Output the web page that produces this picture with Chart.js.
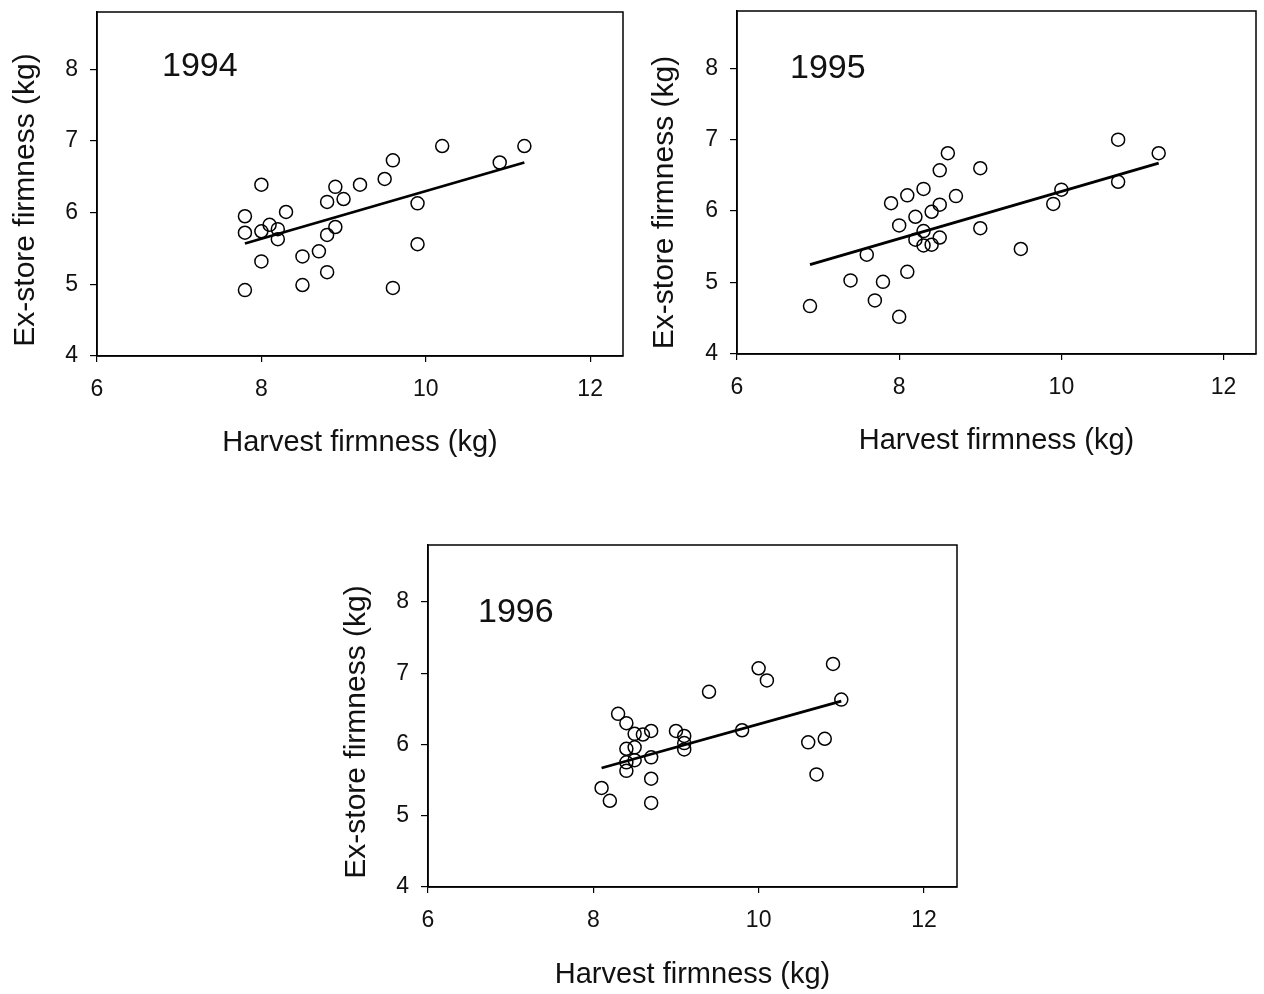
<!DOCTYPE html>
<html>
<head>
<meta charset="utf-8">
<script src="https://cdn.jsdelivr.net/npm/chart.js@4/dist/chart.umd.min.js"></script>
<style>
html,body{margin:0;padding:0;background:#fff;}
#wrap{position:relative;width:1264px;height:994px;overflow:hidden;background:#fff;}
canvas{position:absolute;display:block;}
</style>
</head>
<body>
<div id="wrap">
  <canvas id="c1" width="640" height="470" style="left:0px;top:0px"></canvas>
  <canvas id="c2" width="624" height="470" style="left:640px;top:0px"></canvas>
  <canvas id="c3" width="640" height="464" style="left:330px;top:530px"></canvas>
</div>
<script>
// ---- tick labels ----
const xTickValues = [6, 8, 10, 12];
const yTickValues = [4, 5, 6, 7, 8];
const xTitle = 'Harvest firmness (kg)';
const yTitle = 'Ex-store firmness (kg)';
const years = ['1994', '1995', '1996'];

// ---- 1994 ----
const harvest1994 = [7.8, 7.8, 7.8, 8.0, 8.0, 8.0, 8.1, 8.2, 8.2, 8.3, 8.5, 8.5, 8.7, 8.8, 8.8, 8.8, 8.9, 8.9, 9.0, 9.2, 9.5, 9.6, 9.6, 9.9, 9.9, 10.2, 10.9, 11.2];
const exstore1994 = [4.92, 5.72, 5.95, 6.39, 5.74, 5.32, 5.83, 5.77, 5.63, 6.01, 5.39, 4.99, 5.46, 6.15, 5.69, 5.17, 6.36, 5.80, 6.19, 6.39, 6.47, 6.73, 4.95, 6.13, 5.56, 6.93, 6.70, 6.93];
const fitX1994 = [7.8, 11.2];
const fitY1994 = [5.57, 6.70];

// ---- 1995 ----
const harvest1995 = [6.9, 7.4, 7.6, 7.7, 7.8, 8.0, 7.9, 8.0, 8.1, 8.1, 8.2, 8.2, 8.3, 8.3, 8.3, 8.4, 8.4, 8.5, 8.5, 8.5, 8.6, 8.7, 9.0, 9.0, 9.5, 9.9, 10.0, 10.7, 10.7, 11.2];
const exstore1995 = [4.67, 5.03, 5.39, 4.75, 5.01, 4.52, 6.11, 5.80, 6.22, 5.15, 5.92, 5.60, 6.31, 5.72, 5.52, 5.99, 5.53, 6.09, 6.57, 5.63, 6.81, 6.21, 6.60, 5.76, 5.47, 6.10, 6.30, 7.00, 6.41, 6.81];
const fitX1995 = [6.9, 11.2];
const fitY1995 = [5.25, 6.67];

// ---- 1996 ----
const harvest1996 = [8.1, 8.2, 8.3, 8.4, 8.5, 8.6, 8.7, 8.4, 8.5, 8.4, 8.4, 8.5, 8.7, 8.7, 8.7, 9.0, 9.1, 9.1, 9.1, 9.4, 9.8, 10.0, 10.1, 10.6, 10.8, 10.7, 10.9, 11.0];
const exstore1996 = [5.39, 5.21, 6.43, 6.30, 6.15, 6.14, 6.19, 5.94, 5.96, 5.75, 5.63, 5.78, 5.82, 5.52, 5.18, 6.19, 6.12, 6.02, 5.93, 6.74, 6.20, 7.07, 6.90, 6.03, 6.08, 5.58, 7.13, 6.63];
const fitX1996 = [8.1, 11.0];
const fitY1996 = [5.67, 6.61];

const FONT = 'Arial, "Liberation Sans", sans-serif';
const INK = '#111';

const panelPlugin = {
  id: 'panelDeco',
  afterDraw(chart, args, opts) {
    const ctx = chart.ctx;
    const a = chart.chartArea;
    ctx.save();
    // frame around plot area
    ctx.strokeStyle = '#000';
    ctx.lineWidth = 1.5;
    ctx.strokeRect(a.left, a.top, a.right - a.left, a.bottom - a.top);
    // year label
    ctx.fillStyle = INK;
    ctx.font = '34px ' + FONT;
    ctx.textAlign = 'left';
    ctx.textBaseline = 'alphabetic';
    const y8 = chart.scales.y.getPixelForValue(8);
    ctx.fillText(opts.year, a.left + opts.yearDx, y8 + opts.yearDy);
    // y-axis title
    ctx.translate(opts.yTitleX, (a.top + a.bottom) / 2 + opts.yTitleDy);
    ctx.rotate(-Math.PI / 2);
    ctx.font = '30px ' + FONT;
    ctx.textAlign = 'center';
    ctx.textBaseline = 'middle';
    ctx.fillText(yTitle, 0, 0);
    ctx.restore();
  }
};

function toPoints(xs, ys) {
  return xs.map((x, i) => ({ x: x, y: ys[i] }));
}

function noPad(s) {
  s.paddingTop = 0; s.paddingBottom = 0; s.paddingLeft = 0; s.paddingRight = 0;
}

function makePanel(id, year, xs, ys, fx, fy, box, deco) {
  const canvas = document.getElementById(id);
  const W = canvas.width, H = canvas.height;
  new Chart(canvas, {
    type: 'scatter',
    data: {
      datasets: [
        {
          label: 'fit',
          data: toPoints(fx, fy),
          showLine: true,
          borderColor: '#000',
          borderWidth: 2.8,
          pointRadius: 0,
          fill: false
        },
        {
          label: year,
          data: toPoints(xs, ys),
          pointRadius: 6.5,
          pointHoverRadius: 6.5,
          pointBorderWidth: 1.5,
          borderColor: '#000',
          pointBorderColor: '#000',
          pointBackgroundColor: 'rgba(0,0,0,0)',
          backgroundColor: 'rgba(0,0,0,0)',
          showLine: false
        }
      ]
    },
    options: {
      responsive: false,
      animation: false,
      devicePixelRatio: 1,
      layout: { padding: { left: 0, top: box.top, right: W - box.right, bottom: 0 } },
      plugins: {
        legend: { display: false },
        tooltip: { enabled: false },
        panelDeco: deco
      },
      scales: {
        x: {
          type: 'linear',
          min: 6,
          max: 12.4,
          afterFit: s => { s.height = H - box.bottom; noPad(s); },
          afterBuildTicks: s => { s.ticks = xTickValues.map(v => ({ value: v })); },
          ticks: {
            color: INK,
            font: { family: FONT, size: 23 },
            padding: 14,
            maxRotation: 0,
            callback: v => String(v)
          },
          grid: { display: true, drawOnChartArea: false, drawTicks: true, tickLength: 6, color: '#000', lineWidth: 1.2 },
          border: { display: true, color: '#000', width: 1.5 },
          title: {
            display: true,
            text: xTitle,
            color: INK,
            font: { family: FONT, size: 29 },
            padding: { top: 0, bottom: deco.xTitlePad }
          }
        },
        y: {
          type: 'linear',
          min: 4,
          max: 8.8,
          afterFit: s => { s.width = box.left; noPad(s); },
          afterBuildTicks: s => { s.ticks = yTickValues.map(v => ({ value: v })); },
          ticks: {
            color: INK,
            font: { family: FONT, size: 23 },
            padding: 12,
            callback: v => String(v)
          },
          grid: { display: true, drawOnChartArea: false, drawTicks: true, tickLength: 7, color: '#000', lineWidth: 1.2 },
          border: { display: true, color: '#000', width: 1.5 }
        }
      }
    },
    plugins: [panelPlugin]
  });
}

makePanel('c1', years[0], harvest1994, exstore1994, fitX1994, fitY1994,
  { left: 97, top: 12, right: 623, bottom: 356 },
  { year: years[0], yearDx: 65, yearDy: 7, yTitleX: 26, yTitleDy: 16, xTitlePad: 10 });
makePanel('c2', years[1], harvest1995, exstore1995, fitX1995, fitY1995,
  { left: 97, top: 11, right: 622, bottom: 354 },
  { year: years[1], yearDx: 53, yearDy: 10, yTitleX: 25, yTitleDy: 20, xTitlePad: 12 });
makePanel('c3', years[2], harvest1996, exstore1996, fitX1996, fitY1996,
  { left: 98, top: 15, right: 627, bottom: 357 },
  { year: years[2], yearDx: 50, yearDy: 20, yTitleX: 27, yTitleDy: 16, xTitlePad: 2 });
</script>
</body>
</html>
